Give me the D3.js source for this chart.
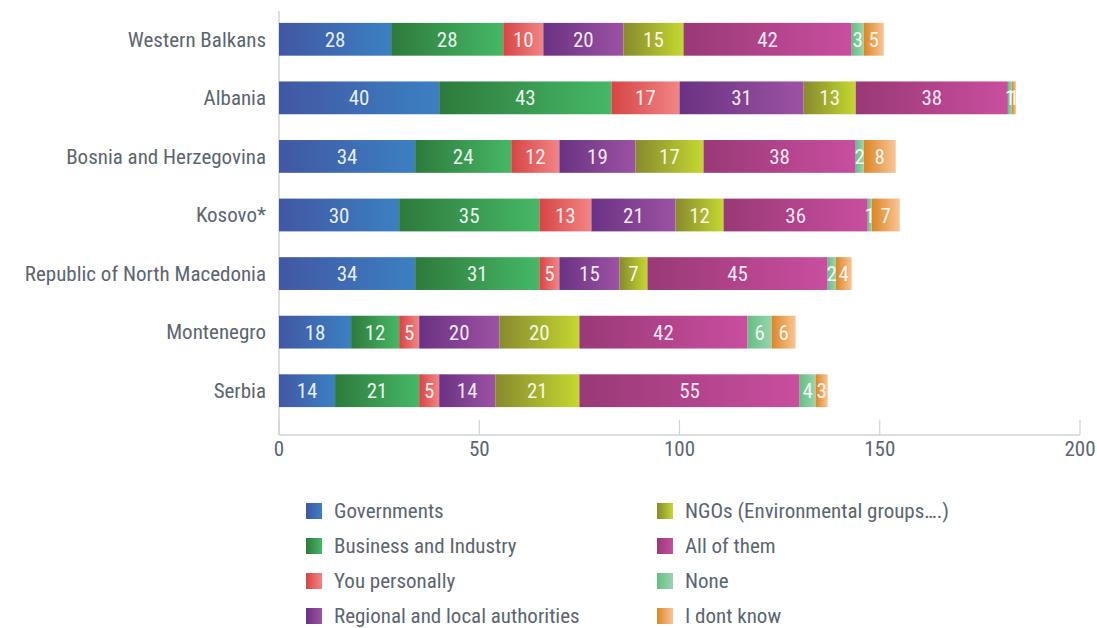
<!DOCTYPE html>
<html><head><meta charset="utf-8">
<script src="https://cdn.jsdelivr.net/npm/d3@7"></script>
<style>
body{margin:0;background:#fff;}
text{font-family:"Roboto Condensed","Liberation Sans Narrow",Roboto,sans-serif;}
</style></head>
<body><svg id="c" width="1097" height="628"></svg>
<script>
const categories = ["Western Balkans","Albania","Bosnia and Herzegovina","Kosovo*","Republic of North Macedonia","Montenegro","Serbia"];
const seriesNames = ["Governments","Business and Industry","You personally","Regional and local authorities","NGOs (Environmental groups….)","All of them","None","I dont know"];
const governments = [28,40,34,30,34,18,14];
const business = [28,43,24,35,31,12,21];
const personally = [10,17,12,13,5,5,5];
const regional = [20,31,19,21,15,20,14];
const ngos = [15,13,17,12,7,20,21];
const allOfThem = [42,38,38,36,45,42,55];
const none = [3,1,2,1,2,6,4];
const dontKnow = [5,1,8,7,4,6,3];
const xTicks = [0,50,100,150,200];
const colorStops = [["#4257a3","#3b80c2"],["#2e7a3c","#45b866"],["#d64545","#f28585"],["#6a3283","#9d52a3"],["#878a2e","#c4d830"],["#993976","#c94e9f"],["#68bd80","#96d5b2"],["#da8626","#f9c596"]];

const seriesVals = [governments,business,personally,regional,ngos,allOfThem,none,dontKnow];
const svg = d3.select("#c");
const x = d3.scaleLinear().domain([0,200]).range([279,1080]);
const y = d3.scaleBand().domain(categories).range([10,420]).paddingInner(0.44).paddingOuter(0.22);

const defs = svg.append("defs");
colorStops.forEach((c,i)=>{
  const g = defs.append("linearGradient").attr("id","g"+i).attr("x1","0").attr("x2","1").attr("y1","0").attr("y2","0");
  g.append("stop").attr("offset","0").attr("stop-color",c[0]);
  g.append("stop").attr("offset","1").attr("stop-color",c[1]);
});

const txt = "#5b6571";
svg.append("line").attr("x1",x(0)).attr("x2",x(0)).attr("y1",11).attr("y2",435).attr("stroke","#cfd4d9").attr("stroke-width",1.5);
svg.append("line").attr("x1",x(0)).attr("x2",x(200)).attr("y1",435).attr("y2",435).attr("stroke","#cfd4d9").attr("stroke-width",1.5);
xTicks.forEach(t=>{
  svg.append("line").attr("x1",x(t)).attr("x2",x(t)).attr("y1",420).attr("y2",435).attr("stroke","#cfd4d9").attr("stroke-width",1.2);
  svg.append("text").attr("x",x(t)).attr("y",449).attr("dy","0.35em").attr("text-anchor","middle").attr("font-size",21).attr("fill",txt).text(t);
});

categories.forEach((cat,ci)=>{
  let acc = 0;
  const yy = y(cat), h = y.bandwidth();
  svg.append("text").attr("x",266).attr("y",yy+h/2).attr("dy","0.35em").attr("text-anchor","end").attr("font-size",21).attr("fill",txt).text(cat);
  seriesVals.forEach((arr,si)=>{
    const v = arr[ci];
    const x0 = x(acc), x1 = x(acc+v);
    svg.append("rect").attr("x",x0).attr("y",yy).attr("width",x1-x0).attr("height",h).attr("fill","url(#g"+si+")");
    acc += v;
  });
  acc = 0;
  seriesVals.forEach((arr,si)=>{
    const v = arr[ci];
    svg.append("text").attr("x",(x(acc)+x(acc+v))/2).attr("y",yy+h/2).attr("dy","0.36em").attr("text-anchor","middle").attr("font-size",21).attr("fill","#ffffff").attr("fill-opacity",0.9).text(v);
    acc += v;
  });
});

seriesNames.forEach((n,i)=>{
  const col = Math.floor(i/4), row = i%4;
  const lx = col===0 ? 306 : 657;
  const ly = 511 + row*35;
  svg.append("rect").attr("x",lx).attr("y",ly-8).attr("width",16).attr("height",16).attr("fill","url(#g"+i+")");
  svg.append("text").attr("x",lx+28).attr("y",ly).attr("dy","0.35em").attr("font-size",21).attr("fill",txt).text(n);
});
</script></body></html>
